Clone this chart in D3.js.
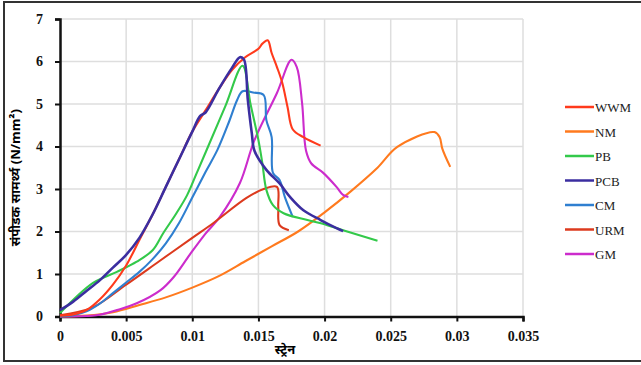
<!DOCTYPE html>
<html>
<head>
<meta charset="utf-8">
<script src="https://cdn.jsdelivr.net/npm/d3@7"></script>
<style>
  body { margin: 0; background: #fff; }
  svg { display: block; }
</style>
</head>
<body>
<div id="chart"></div>
<script>
// strain values and stress values for each specimen
const seriesNames = ["WWM", "NM", "PB", "PCB", "CM", "URM", "GM"];
const seriesColors = ["#ff3a1c", "#ff7a1e", "#33c94a", "#3b2ea0", "#2f7fd0", "#dc3a1e", "#cc2ccc"];

const wwmStrain = [0, 0.001, 0.002, 0.003, 0.004, 0.005, 0.006, 0.007, 0.008, 0.009, 0.010, 0.011, 0.012, 0.013, 0.014, 0.015, 0.0153, 0.0157, 0.0160, 0.0164, 0.0168, 0.0172, 0.0176, 0.0184, 0.0197];
const wwmStress = [0.02, 0.05, 0.15, 0.4, 0.75, 1.2, 1.8, 2.4, 3.05, 3.7, 4.35, 4.85, 5.35, 5.8, 6.1, 6.3, 6.42, 6.5, 6.2, 5.87, 5.5, 4.93, 4.4, 4.22, 4.02];

const nmStrain = [0, 0.002, 0.004, 0.006, 0.008, 0.010, 0.012, 0.014, 0.016, 0.018, 0.020, 0.022, 0.024, 0.0255, 0.0283, 0.0287, 0.0289, 0.0295];
const nmStress = [0, 0.02, 0.1, 0.27, 0.45, 0.68, 0.95, 1.3, 1.65, 2.0, 2.45, 2.95, 3.5, 3.99, 4.34, 4.22, 3.95, 3.52];

const pbStrain = [0, 0.0025, 0.0043, 0.0058, 0.007, 0.0078, 0.0088, 0.0096, 0.0103, 0.0111, 0.0125, 0.0138, 0.0144, 0.0150, 0.0153, 0.0156, 0.0161, 0.0169, 0.0187, 0.0202, 0.0214, 0.0240];
const pbStress = [0.08, 0.79, 1.05, 1.29, 1.56, 1.96, 2.43, 2.85, 3.35, 3.93, 4.95, 5.9, 5.0, 4.15, 3.6, 2.98, 2.62, 2.43, 2.27, 2.15, 2.03, 1.78];

const pcbStrain = [0, 0.001, 0.002, 0.003, 0.004, 0.005, 0.006, 0.007, 0.008, 0.009, 0.010, 0.0106, 0.011, 0.012, 0.013, 0.0136, 0.0139, 0.0142, 0.0145, 0.0147, 0.0156, 0.0166, 0.0174, 0.0184, 0.0197, 0.0209, 0.0214];
const pcbStress = [0.15, 0.35, 0.6, 0.85, 1.15, 1.45, 1.85, 2.4, 3.05, 3.7, 4.35, 4.72, 4.8, 5.35, 5.85, 6.1, 6.05, 5.09, 4.31, 3.9, 3.45, 3.13, 2.81, 2.5, 2.27, 2.08, 2.01];

const cmStrain = [0, 0.001, 0.002, 0.003, 0.004, 0.005, 0.006, 0.007, 0.008, 0.009, 0.010, 0.011, 0.0119, 0.0128, 0.0134, 0.0138, 0.0146, 0.0154, 0.0156, 0.0160, 0.0161, 0.0166, 0.0170, 0.0176];
const cmStress = [0, 0.03, 0.12, 0.3, 0.55, 0.8, 1.05, 1.35, 1.72, 2.2, 2.8, 3.4, 3.92, 4.6, 5.1, 5.3, 5.27, 5.21, 4.62, 4.22, 3.38, 3.21, 2.81, 2.34];

const urmStrain = [0, 0.0025, 0.005, 0.0075, 0.010, 0.0116, 0.0141, 0.0154, 0.0164, 0.0165, 0.0166, 0.0173];
const urmStress = [0.03, 0.22, 0.75, 1.3, 1.85, 2.2, 2.79, 3.0, 3.05, 2.58, 2.15, 2.03];

const gmStrain = [0, 0.002, 0.003, 0.0043, 0.0058, 0.0076, 0.0086, 0.0098, 0.011, 0.0121, 0.0136, 0.0147, 0.0164, 0.0175, 0.0179, 0.0183, 0.0186, 0.0190, 0.0199, 0.0209, 0.0214, 0.0218];
const gmStress = [0, 0.01, 0.04, 0.15, 0.31, 0.62, 0.93, 1.45, 1.95, 2.35, 3.14, 4.15, 5.26, 6.04, 5.87, 5.02, 3.9, 3.6, 3.38, 3.05, 2.86, 2.81];

const xTicks = [0, 0.005, 0.01, 0.015, 0.02, 0.025, 0.03, 0.035];
const yTicks = [0, 1, 2, 3, 4, 5, 6, 7];

const strains = [wwmStrain, nmStrain, pbStrain, pcbStrain, cmStrain, urmStrain, gmStrain];
const stresses = [wwmStress, nmStress, pbStress, pcbStress, cmStress, urmStress, gmStress];

const width = 641, height = 365;
const margin = {top: 19, right: 118, bottom: 48.5, left: 60};

const svg = d3.select("#chart").append("svg")
    .attr("width", width)
    .attr("height", height);

// outer frame
svg.append("rect")
    .attr("x", 4).attr("y", 2)
    .attr("width", 640).attr("height", 359)
    .attr("fill", "#fff")
    .attr("stroke", "#333")
    .attr("stroke-width", 2);

const x = d3.scaleLinear().domain([0, 0.035]).range([margin.left, width - margin.right]);
const y = d3.scaleLinear().domain([0, 7]).range([height - margin.bottom, margin.top]);

// grid
svg.append("g").selectAll("line")
    .data(xTicks.slice(1))
    .join("line")
    .attr("x1", d => x(d)).attr("x2", d => x(d))
    .attr("y1", y(0)).attr("y2", y(7))
    .attr("stroke", "#dedede").attr("stroke-width", 1.5);
svg.append("g").selectAll("line")
    .data(yTicks.slice(1))
    .join("line")
    .attr("x1", x(0)).attr("x2", x(0.035))
    .attr("y1", d => y(d)).attr("y2", d => y(d))
    .attr("stroke", "#dedede").attr("stroke-width", 1.5);

// axes
const xAxis = svg.append("g")
    .attr("transform", `translate(0,${y(0)})`)
    .call(d3.axisBottom(x).tickValues(xTicks).tickFormat(d => d3.format("~g")(d)).tickSize(5).tickPadding(10));
const yAxis = svg.append("g")
    .attr("transform", `translate(${x(0)},0)`)
    .call(d3.axisLeft(y).tickValues(yTicks).tickFormat(d3.format("d")).tickSize(5).tickPadding(12));

[xAxis, yAxis].forEach(a => {
    a.attr("font-family", null).attr("font-size", null);
    a.select(".domain").attr("stroke", "#111").attr("stroke-width", 2.5);
    a.selectAll(".tick line").attr("stroke", "#111").attr("stroke-width", 2);
    a.selectAll(".tick text")
        .attr("fill", "#111")
        .style("font-family", "'Liberation Serif', 'Times New Roman', serif")
        .style("font-weight", "bold")
        .style("font-size", "14px");
});

// lines
const line = d3.line()
    .x(d => x(d[0]))
    .y(d => y(d[1]))
    .curve(d3.curveCatmullRom.alpha(0.5));

const plotOrder = [1, 6, 5, 4, 2, 0, 3];
plotOrder.forEach(i => {
    const pts = d3.zip(strains[i], stresses[i]);
    svg.append("path")
        .datum(pts)
        .attr("fill", "none")
        .attr("stroke", seriesColors[i])
        .attr("stroke-width", i === 3 ? 2.6 : 2.1)
        .attr("stroke-linejoin", "round")
        .attr("d", line);
});

// axis titles
svg.append("text")
    .attr("transform", `translate(20,${(y(0) + y(7)) / 2 + 10}) rotate(-90)`)
    .attr("text-anchor", "middle")
    .style("font-family", "'Noto Sans', 'DejaVu Sans', sans-serif")
    .style("font-weight", "bold")
    .style("font-size", "13px")
    .text("संपीडक सामर्थ्य (N/mm²)");

svg.append("text")
    .attr("x", 285)
    .attr("y", 354)
    .attr("text-anchor", "middle")
    .style("font-family", "'Noto Sans', 'DejaVu Sans', sans-serif")
    .style("font-weight", "bold")
    .style("font-size", "13px")
    .text("स्ट्रेन");

// legend
const legend = svg.append("g").attr("transform", "translate(565,107)");
seriesNames.forEach((name, i) => {
    const g = legend.append("g").attr("transform", `translate(0,${i * 24.5})`);
    g.append("line")
        .attr("x1", 0).attr("x2", 29)
        .attr("stroke", seriesColors[i]).attr("stroke-width", 2.5);
    g.append("text")
        .attr("x", 30).attr("y", 5)
        .style("font-family", "'Liberation Serif', serif")
        .style("font-size", "13px")
        .attr("fill", "#222")
        .text(name);
});
</script>
</body>
</html>
